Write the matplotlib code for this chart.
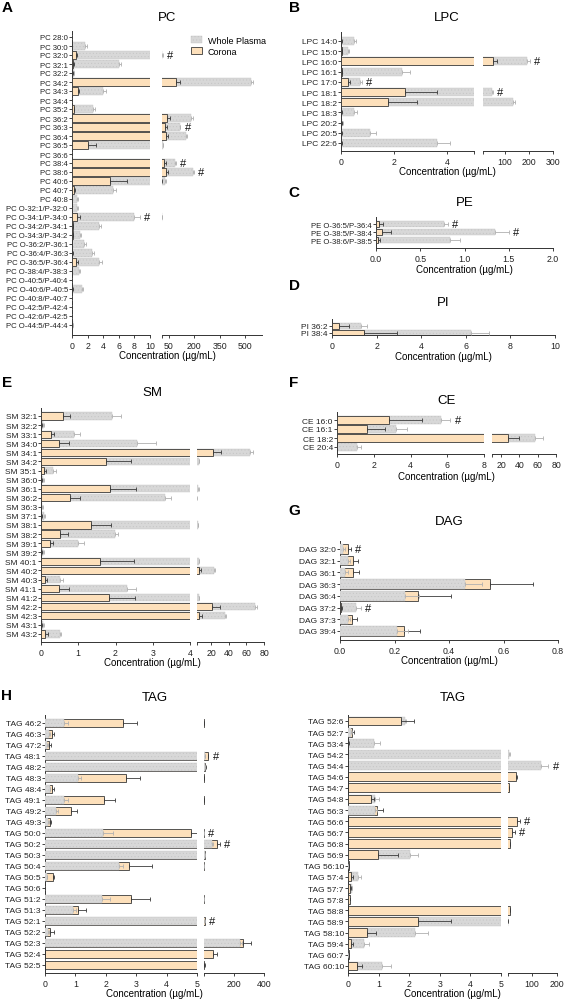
import matplotlib.pyplot as plt
from matplotlib.patches import Patch

plt.rcParams['font.family'] = ['Liberation Sans', 'DejaVu Sans']
plt.rcParams['hatch.linewidth'] = 0.3

W, H = 569, 1004
GREY = '#d8d8d8'
GREY_EDGE = '#c4c4c4'
PEACH = '#fde0bb'
DARK = '#3a3a3a'

# ---- data (values and SD, µg/mL) ----
pc_names = ['PC 28:0', 'PC 30:0', 'PC 32:0', 'PC 32:1', 'PC 32:2', 'PC 34:2', 'PC 34:3', 'PC 34:4',
            'PC 35:2', 'PC 36:2', 'PC 36:3', 'PC 36:4', 'PC 36:5', 'PC 36:6', 'PC 38:4', 'PC 38:6',
            'PC 40:6', 'PC 40:7', 'PC 40:8', 'PC O-32:1/P-32:0', 'PC O-34:1/P-34:0', 'PC O-34:2/P-34:1',
            'PC O-34:3/P-34:2', 'PC O-36:2/P-36:1', 'PC O-36:4/P-36:3', 'PC O-36:5/P-36:4',
            'PC O-38:4/P-38:3', 'PC O-40:5/P-40:4', 'PC O-40:6/P-40:5', 'PC O-40:8/P-40:7',
            'PC O-42:5/P-42:4', 'PC O-42:6/P-42:5', 'PC O-44:5/P-44:4']
pc_plasma = [0.03, 1.7, 12, 6.0, 0.2, 534, 4.0, 0.03, 2.7, 184, 115, 154, 13, 0.03, 89, 190, 30, 5.3,
             0.7, 0.7, 7.9, 3.4, 1.05, 1.6, 2.55, 3.4, 0.95, 0.05, 1.3, 0.05, 0.05, 0.05, 0.1]
pc_plasma_sd = [0.01, 0.2, 1, 0.3, 0.1, 11, 0.4, 0.01, 0.2, 6, 4, 6, 1, 0.01, 3, 6, 3, 0.35, 0.08,
                0.08, 0.85, 0.35, 0.15, 0.25, 0.22, 0.45, 0.06, 0.01, 0.12, 0.01, 0.01, 0.01, 0.02]
pc_corona = [0.01, 0.02, 0.55, 0.12, 0.05, 95, 0.77, 0.01, 0.21, 42, 28, 34, 2.1, 0.01, 24, 33, 4.9,
             0.21, 0.02, 0.02, 0.64, 0.08, 0.1, 0.03, 0.05, 0.56, 0.03, 0.01, 0.05, 0.01, 0.01, 0.01, 0.03]
pc_corona_sd = [0.01, 0.01, 0.08, 0.08, 0.02, 24, 0.17, 0.01, 0.09, 16, 10, 10, 0.95, 0.01, 7, 15,
                2.15, 0.22, 0.01, 0.01, 0.34, 0.07, 0.08, 0.01, 0.02, 0.21, 0.01, 0.01, 0.05, 0.01,
                0.01, 0.01, 0.02]
pc_hash = ['PC 32:0', 'PC 36:3', 'PC 38:4', 'PC 38:6', 'PC O-34:1/P-34:0']

lpc_names = ['LPC 14:0', 'LPC 15:0', 'LPC 16:0', 'LPC 16:1', 'LPC 17:0', 'LPC 18:1', 'LPC 18:2',
             'LPC 18:3', 'LPC 20:2', 'LPC 20:5', 'LPC 22:6']
lpc_plasma = [0.5, 0.25, 191, 2.3, 0.7, 45, 135, 0.5, 0.05, 1.1, 3.6]
lpc_plasma_sd = [0.08, 0.05, 12, 0.3, 0.1, 3, 5, 0.1, 0.02, 0.2, 0.5]
lpc_corona = [0.01, 0.02, 50, 0.02, 0.25, 2.4, 1.75, 0.01, 0.01, 0.01, 0.01]
lpc_corona_sd = [0.01, 0.01, 18, 0.01, 0.1, 1.2, 1.1, 0.01, 0.01, 0.01, 0.01]
lpc_hash = ['LPC 16:0', 'LPC 17:0', 'LPC 18:1']

pe_names = ['PE O-36:5/P-36:4', 'PE O-38:5/P-38:4', 'PE O-38:6/P-38:5']
pe_plasma = [0.77, 1.35, 0.84]
pe_plasma_sd = [0.04, 0.15, 0.11]
pe_corona = [0.03, 0.07, 0.02]
pe_corona_sd = [0.05, 0.1, 0.03]
pe_hash = ['PE O-36:5/P-36:4', 'PE O-38:5/P-38:4']

pi_names = ['PI 36:2', 'PI 38:4']
pi_plasma = [1.3, 6.25]
pi_plasma_sd = [0.25, 0.8]
pi_corona = [0.3, 1.45]
pi_corona_sd = [0.45, 1.45]

sm_names = ['SM 32:1', 'SM 32:2', 'SM 33:1', 'SM 34:0', 'SM 34:1', 'SM 34:2', 'SM 35:1', 'SM 36:0',
            'SM 36:1', 'SM 36:2', 'SM 36:3', 'SM 37:1', 'SM 38:1', 'SM 38:2', 'SM 39:1', 'SM 39:2',
            'SM 40:1', 'SM 40:2', 'SM 40:3', 'SM 41:1', 'SM 41:2', 'SM 42:2', 'SM 42:3', 'SM 43:1',
            'SM 43:2']
sm_plasma = [1.91, 0.05, 0.89, 2.59, 64.5, 6, 0.33, 0.05, 5.5, 3.34, 0.04, 0.08, 5, 1.99, 0.99, 0.06,
             6, 23.4, 0.5, 2.32, 6, 69.8, 35.5, 0.05, 0.5]
sm_plasma_sd = [0.24, 0.02, 0.15, 0.49, 3, 0.7, 0.07, 0.03, 0.7, 0.16, 0.02, 0.04, 0.7, 0.07, 0.17,
                0.02, 0.7, 0.8, 0.09, 0.22, 0.7, 1.9, 1.1, 0.03, 0.05]
sm_corona = [0.59, 0.01, 0.27, 0.47, 22.3, 1.74, 0.09, 0.01, 1.85, 0.77, 0.005, 0.01, 1.34, 0.52,
             0.24, 0.01, 1.58, 6.0, 0.11, 0.47, 1.82, 20.7, 6.4, 0.01, 0.11]
sm_corona_sd = [0.19, 0.01, 0.09, 0.28, 9, 0.68, 0.04, 0.01, 0.69, 0.27, 0.005, 0.01, 0.54, 0.2, 0.08,
                0.01, 0.93, 2.7, 0.04, 0.28, 0.7, 9.1, 3.4, 0.01, 0.07]

ce_names = ['CE 16:0', 'CE 16:1', 'CE 18:2', 'CE 20:4']
ce_plasma = [5.67, 3.2, 57, 1.1]
ce_plasma_sd = [0.5, 0.6, 9, 0.22]
ce_corona = [2.83, 1.63, 28, 0.01]
ce_corona_sd = [1.8, 0.98, 12, 0.01]
ce_hash = ['CE 16:0']

dag_names = ['DAG 32:0', 'DAG 32:1', 'DAG 36:1', 'DAG 36:3', 'DAG 36:4', 'DAG 37:2', 'DAG 37:3',
             'DAG 39:4']
dag_plasma = [0.012, 0.03, 0.018, 0.46, 0.24, 0.06, 0.03, 0.21]
dag_plasma_sd = [0.008, 0.005, 0.012, 0.06, 0.05, 0.018, 0.005, 0.04]
dag_corona = [0.031, 0.047, 0.047, 0.55, 0.287, 0.005, 0.044, 0.235]
dag_corona_sd = [0.01, 0.02, 0.024, 0.16, 0.12, 0.003, 0.019, 0.06]
dag_hash = ['DAG 32:0', 'DAG 37:2']

tag1_names = ['TAG 46:2', 'TAG 46:3', 'TAG 47:2', 'TAG 48:1', 'TAG 48:2', 'TAG 48:3', 'TAG 48:4',
              'TAG 49:1', 'TAG 49:2', 'TAG 49:3', 'TAG 50:0', 'TAG 50:2', 'TAG 50:3', 'TAG 50:4',
              'TAG 50:5', 'TAG 50:6', 'TAG 51:2', 'TAG 51:3', 'TAG 52:1', 'TAG 52:2', 'TAG 52:3',
              'TAG 52:4', 'TAG 52:5']
tag1_plasma = [0.63, 0.12, 0.08, 9, 9, 1.1, 0.15, 0.63, 0.35, 0.1, 1.92, 58, 10, 2.45, 0.05, 0.01,
               1.89, 0.93, 8, 0.1, 244, 0, 0]
tag1_plasma_sd = [0.14, 0.04, 0.03, 1, 1, 0.1, 0.03, 0.14, 0.09, 0.03, 0.33, 5, 1, 0.1, 0.02, 0.005,
                  0.25, 0.08, 1, 0.03, 10, 0, 0]
tag1_corona = [2.55, 0.22, 0.14, 30, 13, 2.66, 0.24, 1.95, 0.86, 0.15, 4.81, 90, 12, 2.75, 0.26,
               0.01, 2.82, 1.07, 9, 0.16, 262, 64, 8]
tag1_corona_sd = [0.49, 0.08, 0.06, 4, 2, 0.47, 0.06, 0.36, 0.18, 0.05, 0.24, 18, 1.5, 0.77, 0.05,
                  0.005, 0.64, 0.27, 1, 0.14, 54, 24, 1]
tag1_hash = ['TAG 48:1', 'TAG 50:0', 'TAG 50:2', 'TAG 52:1']

tag2_names = ['TAG 52:6', 'TAG 52:7', 'TAG 53:4', 'TAG 54:2', 'TAG 54:4', 'TAG 54:6', 'TAG 54:7',
              'TAG 54:8', 'TAG 56:3', 'TAG 56:6', 'TAG 56:7', 'TAG 56:8', 'TAG 56:9', 'TAG 56:10',
              'TAG 57:4', 'TAG 57:7', 'TAG 57:8', 'TAG 58:8', 'TAG 58:9', 'TAG 58:10', 'TAG 59:4',
              'TAG 60:7', 'TAG 60:10']
tag2_plasma = [1.85, 0.1, 0.84, 10, 137, 0, 0, 0.89, 0.89, 0, 0, 0, 2.01, 0.01, 0.33, 0.12, 0.06, 0,
               5.2, 2.2, 0.53, 0.01, 1.11]
tag2_plasma_sd = [0.05, 0.02, 0.21, 1, 29, 0, 0, 0.11, 0.06, 0, 0, 0, 0.29, 0.005, 0.1, 0.02, 0.01,
                  0, 0.3, 0.43, 0.14, 0.005, 0.29]
tag2_corona = [1.73, 0.13, 0.01, 0, 0, 35, 8, 0.75, 0.95, 39, 21, 12, 0.98, 0.02, 0.1, 0.07, 0.05,
               12, 2.28, 0.62, 0.11, 0.02, 0.29]
tag2_corona_sd = [0.43, 0.07, 0.01, 0, 0, 7, 1, 0.1, 0.19, 13, 11, 2, 0.67, 0.01, 0.05, 0.03, 0.02,
                  1, 1.1, 0.3, 0.04, 0.01, 0.17]
tag2_hash = ['TAG 54:4', 'TAG 56:6', 'TAG 56:7']

fig = plt.figure(figsize=(W / 100, H / 100), dpi=100)


def rect(x0, x1, top, bottom):
    return [x0 / W, 1 - bottom / H, (x1 - x0) / W, (bottom - top) / H]


def draw_bars(ax, wp, wp_sd, co, co_sd):
    for i in range(len(wp)):
        items = [(wp[i], wp_sd[i], 'wp'), (co[i], co_sd[i], 'co')]
        items.sort(key=lambda t: -t[0])  # larger bar behind, smaller in front
        for z, (v, s, kind) in enumerate(items):
            if v <= 0:
                continue
            if kind == 'wp':
                ax.barh(i, v, height=0.8, color=GREY, edgecolor=GREY_EDGE, linewidth=0.3,
                        hatch='.....', zorder=2 + z)
            else:
                ax.barh(i, v, height=0.8, color=PEACH, edgecolor=DARK, linewidth=0.6, zorder=2 + z)
        for v, s, kind in items:
            if s > 0 and v > 0:
                ax.errorbar(v, i, xerr=[[0], [s]], fmt='none',
                            ecolor='#b0b0b0' if kind == 'wp' else DARK,
                            elinewidth=0.6, capsize=1.3, capthick=0.6, zorder=6)


def style_x(ax, lim, ticks, labels, edge_tick):
    ax.set_xlim(*lim)
    tk = list(ticks)
    lb = list(labels)
    if edge_tick is not None and edge_tick not in tk:
        tk.append(edge_tick)
        lb.append('')
    ax.set_xticks(tk)
    ax.set_xticklabels(lb)
    ax.tick_params(axis='x', length=2.5, width=0.6, labelsize=6.3, pad=1.5, colors='#222222')
    ax.spines['bottom'].set_linewidth(0.7)
    ax.spines['bottom'].set_color('#333333')
    for s in ['top', 'right']:
        ax.spines[s].set_visible(False)
    ax.set_facecolor('none')


def panel(names, wp, wp_sd, co, co_sd, x0, x1, top, bottom, row0, row1,
          lim, ticks, labels, right=None, hashes=(), title='', title_y=0, label_y=0, ysize=6.0):
    n = len(names)
    pitch = (row1 - row0) / (n - 1)
    ylim = (n - 1 + (bottom - row1) / pitch, -(row0 - top) / pitch)
    ax = fig.add_axes(rect(x0, x1, top, bottom))
    draw_bars(ax, wp, wp_sd, co, co_sd)
    style_x(ax, lim, ticks, labels, lim[1] if right else None)
    ax.set_ylim(*ylim)
    ax.set_yticks(range(n))
    ax.set_yticklabels(names)
    ax.tick_params(axis='y', length=2, width=0.6, labelsize=ysize, pad=1, colors='#222222')
    ax.spines['left'].set_linewidth(0.7)
    ax.spines['left'].set_color('#333333')
    x_end = x1
    axr = None
    if right:
        xr0, xr1, lim_r, ticks_r = right
        x_end = xr1
        axr = fig.add_axes(rect(xr0, xr1, top, bottom))
        draw_bars(axr, wp, wp_sd, co, co_sd)
        style_x(axr, lim_r, ticks_r, [str(t) for t in ticks_r], lim_r[0])
        axr.set_ylim(*ylim)
        axr.set_yticks([])
        axr.spines['left'].set_visible(False)
    for name in hashes:
        i = names.index(name)
        end = max(wp[i] + wp_sd[i], co[i] + co_sd[i])
        target = axr if (axr is not None and end > lim[1]) else ax
        target.annotate('#', (end, i), xytext=(3, 0), textcoords='offset points',
                        va='center', ha='left', fontsize=8, color='#111111', annotation_clip=False)
    xc = (x0 + x_end) / 2 / W
    fig.text(xc, 1 - title_y / H, title, ha='center', va='center', fontsize=9.5)
    fig.text(xc, 1 - label_y / H, 'Concentration (µg/mL)', ha='center', va='center', fontsize=7)
    return ax


def nums(ticks, fmt='{:g}'):
    return [fmt.format(t) for t in ticks]


# A  PC
t = [0, 2, 4, 6, 8, 10]
panel(pc_names, pc_plasma, pc_plasma_sd, pc_corona, pc_corona_sd, 72, 150, 32, 336, 38, 326,
      (0, 10), t, nums(t), right=(162, 262, (10, 600), [50, 200, 350, 500]),
      hashes=pc_hash, title='PC', title_y=18, label_y=356, ysize=5.6)

# B  LPC
t = [0, 2, 4]
panel(lpc_names, lpc_plasma, lpc_plasma_sd, lpc_corona, lpc_corona_sd, 341, 474, 33, 152, 42, 144,
      (0, 5), t, nums(t), right=(483, 553, (8, 300), [100, 200, 300]),
      hashes=lpc_hash, title='LPC', title_y=18, label_y=172)

# C  PE
t = [0, 0.5, 1.0, 1.5, 2.0]
panel(pe_names, pe_plasma, pe_plasma_sd, pe_corona, pe_corona_sd, 376, 553, 218, 249, 225, 241,
      (0, 2), t, nums(t, '{:.1f}'), hashes=pe_hash, title='PE', title_y=203, label_y=270, ysize=5.6)

# D  PI
t = [0, 2, 4, 6, 8, 10]
panel(pi_names, pi_plasma, pi_plasma_sd, pi_corona, pi_corona_sd, 332, 555, 320, 336, 327, 334,
      (0, 10), t, nums(t), title='PI', title_y=303, label_y=357)

# E  SM
t = [0, 1, 2, 3, 4]
panel(sm_names, sm_plasma, sm_plasma_sd, sm_corona, sm_corona_sd, 41, 190, 409, 643, 417, 635,
      (0, 4), t, nums(t), right=(197, 264, (4, 80), [20, 40, 60, 80]),
      title='SM', title_y=393, label_y=663)

# F  CE
t = [0, 2, 4, 6, 8]
panel(ce_names, ce_plasma, ce_plasma_sd, ce_corona, ce_corona_sd, 337, 484, 413, 455, 421, 448,
      (0, 8), t, nums(t), right=(492, 556, (10, 80), [20, 40, 60, 80]),
      hashes=ce_hash, title='CE', title_y=401, label_y=477)

# G  DAG
t = [0, 0.2, 0.4, 0.6, 0.8]
panel(dag_names, dag_plasma, dag_plasma_sd, dag_corona, dag_corona_sd, 340, 558, 542, 641, 550, 632,
      (0, 0.8), t, nums(t, '{:.1f}'), hashes=dag_hash, title='DAG', title_y=522, label_y=661)

# H  TAG (two halves)
t = [0, 1, 2, 3, 4, 5]
panel(tag1_names, tag1_plasma, tag1_plasma_sd, tag1_corona, tag1_corona_sd, 45, 197, 716, 974, 724, 966,
      (0, 5), t, nums(t), right=(204, 264, (5, 400), [200, 400]),
      hashes=tag1_hash, title='TAG', title_y=698, label_y=994)
panel(tag2_names, tag2_plasma, tag2_plasma_sd, tag2_corona, tag2_corona_sd, 348, 501, 716, 974, 722, 967,
      (0, 5), t, nums(t), right=(508, 557, (5, 200), [100, 200]),
      hashes=tag2_hash, title='TAG', title_y=698, label_y=994)

# panel letters
for letter, x, y in [('A', 7, 8), ('B', 294, 8), ('C', 294, 193), ('D', 294, 286),
                     ('E', 7, 383), ('F', 294, 383), ('G', 294, 511), ('H', 7, 696)]:
    fig.text(x / W, 1 - y / H, letter, ha='center', va='center', fontsize=11, fontweight='bold')

handles = [Patch(facecolor=GREY, edgecolor=GREY_EDGE, hatch='.....', linewidth=0.3),
           Patch(facecolor=PEACH, edgecolor=DARK, linewidth=0.6)]
fig.legend(handles, ['Whole Plasma', 'Corona'], loc='upper left', bbox_to_anchor=(186 / W, 1 - 32 / H),
           frameon=False, fontsize=6.5, handlelength=1.3, handleheight=0.9, borderpad=0,
           labelspacing=0.25, handletextpad=0.6)

fig.savefig('out.png', dpi=100)
